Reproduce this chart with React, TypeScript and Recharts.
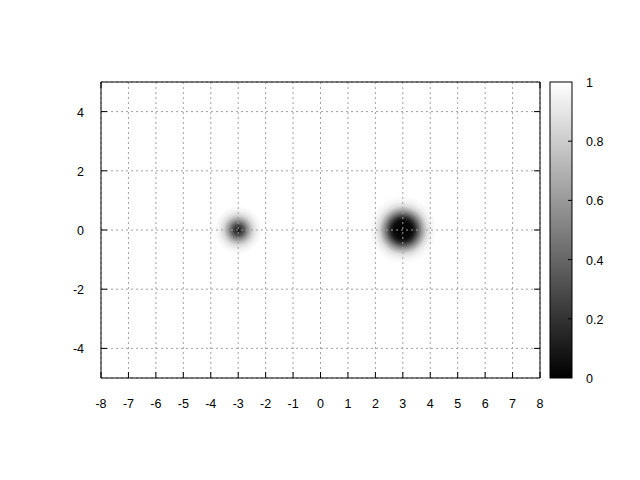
import React from "react"
import { ScatterChart, Scatter, XAxis, YAxis, CartesianGrid, ComposedChart, Bar } from "recharts"

// axis ticks
const xTicks = [-8, -7, -6, -5, -4, -3, -2, -1, 0, 1, 2, 3, 4, 5, 6, 7, 8]
const yTicks = [-4, -2, 0, 2, 4]
const cbTicks = [0, 0.2, 0.4, 0.6, 0.8, 1]

// the two dark spots of the map
const spots = [
  { x: -3, y: 0, id: "left" },
  { x: 3, y: 0, id: "right" },
]

// radial profile of each spot: distance from centre (x units) -> value
const leftDist = [0, 0.11, 0.22, 0.33, 0.44, 0.55, 0.7, 0.875]
const leftLevel = [0.05, 0.2, 0.35, 0.55, 0.72, 0.86, 0.95, 1]
const rightDist = [0, 0.33, 0.44, 0.55, 0.66, 0.77, 0.87, 1.02, 1.24]
const rightLevel = [0, 0.04, 0.15, 0.35, 0.55, 0.72, 0.86, 0.95, 1]

const profiles: Record<string, { dist: number[]; level: number[] }> = {
  left: { dist: leftDist, level: leftLevel },
  right: { dist: rightDist, level: rightLevel },
}

// colour bar: one band covering the whole 0..1 range
const cbData = [{ name: "cb", top: 1 }]

const W = 640
const H = 480
// plot area 101..540 x 82..378
const plotMargin = { top: 82, right: 100, bottom: 102, left: 101 }
const axisMargin = { top: 81, right: 99, bottom: 72, left: 71 }
const pxPerX = (540 - 101) / 16

const font = { fontFamily: "'Liberation Sans', Arial, sans-serif", fontSize: 12.5, fill: "#000" }
const TICK = 6

const gray = (v: number) => {
  const c = Math.round(v * 255)
  return `rgb(${c},${c},${c})`
}

function Spot(props: any) {
  const { cx, cy, payload } = props
  const p = profiles[payload.id]
  const maxD = p.dist[p.dist.length - 1]
  const gid = `spot-${payload.id}`
  return (
    <g>
      <defs>
        <radialGradient id={gid}>
          {p.dist.map((d, i) => (
            <stop key={i} offset={d / maxD} stopColor={gray(p.level[i])} />
          ))}
        </radialGradient>
      </defs>
      <circle cx={cx} cy={cy} r={maxD * pxPerX} fill={`url(#${gid})`} />
    </g>
  )
}

const BottomTick = ({ x, y, payload }: any) => (
  <g>
    <line x1={x} x2={x} y1={y} y2={y - TICK} stroke="#000" />
    <text x={x} y={y + 30} textAnchor="middle" {...font}>{payload.value}</text>
  </g>
)
const TopTick = ({ x, y }: any) => <line x1={x} x2={x} y1={y} y2={y + TICK} stroke="#000" />
const LeftTick = ({ x, y, payload }: any) => (
  <g>
    <line x1={x} x2={x + TICK} y1={y} y2={y} stroke="#000" />
    <text x={x - 17} y={y + 5} textAnchor="end" {...font}>{payload.value}</text>
  </g>
)
const RightTick = ({ x, y }: any) => <line x1={x} x2={x - TICK} y1={y} y2={y} stroke="#000" />

const CbTick = ({ x, y, payload }: any) => (
  <g>
    {payload.value > 0 && payload.value < 1 && (
      <line x1={x} x2={x - 4} y1={y} y2={y} stroke="#000" />
    )}
    <text x={x + 14} y={y + 5} textAnchor="start" {...font}>{payload.value}</text>
  </g>
)

const CbBar = (props: any) => {
  const { x, y, width, height } = props
  return (
    <g>
      <defs>
        <linearGradient id="cbGrad" x1="0" y1="1" x2="0" y2="0">
          {cbTicks.map((t) => (
            <stop key={t} offset={t} stopColor={gray(t)} />
          ))}
        </linearGradient>
      </defs>
      <rect x={x} y={y} width={width} height={height} fill="url(#cbGrad)" stroke="#000" />
    </g>
  )
}

const layer: React.CSSProperties = { position: "absolute", left: 0, top: 0 }

export default function App() {
  return (
    <div style={{ position: "absolute", left: 0, top: 0, width: W, height: H, background: "#fff" }}>
      {/* map surface */}
      <div style={layer}>
        <ScatterChart width={W} height={H} margin={plotMargin}>
          <XAxis type="number" dataKey="x" domain={[-8, 8]} hide allowDataOverflow />
          <YAxis type="number" dataKey="y" domain={[-5, 5]} hide allowDataOverflow />
          <Scatter data={spots} shape={<Spot />} isAnimationActive={false} />
        </ScatterChart>
      </div>
      {/* grid and border drawn in front, as gnuplot does */}
      <div style={layer}>
        <ScatterChart width={W} height={H} margin={axisMargin} data={spots}>
          <XAxis xAxisId="b" type="number" dataKey="x" domain={[-8, 8]} ticks={xTicks} interval={0}
            height={30} tickSize={0} tickMargin={0} tick={<BottomTick />} axisLine={{ stroke: "#000" }} allowDataOverflow />
          <XAxis xAxisId="t" orientation="top" type="number" domain={[-8, 8]} ticks={xTicks} interval={0}
            height={1} tickSize={0} tickMargin={0} tick={<TopTick />} axisLine={{ stroke: "#000" }} allowDataOverflow />
          <YAxis yAxisId="l" type="number" dataKey="y" domain={[-5, 5]} ticks={yTicks} interval={0}
            width={30} tickSize={0} tickMargin={0} tick={<LeftTick />} axisLine={{ stroke: "#000" }} allowDataOverflow />
          <YAxis yAxisId="r" orientation="right" type="number" domain={[-5, 5]} ticks={yTicks} interval={0}
            width={1} tickSize={0} tickMargin={0} tick={<RightTick />} axisLine={{ stroke: "#000" }} allowDataOverflow />
          <CartesianGrid xAxisId="b" yAxisId="l" stroke="#a0a0a0" strokeDasharray="2 3" />
        </ScatterChart>
      </div>
      {/* colour box */}
      <div style={layer}>
        <ComposedChart width={W} height={H} data={cbData} margin={{ top: 82, right: 28, bottom: 102, left: 550 }}
          barCategoryGap={0}>
          <XAxis dataKey="name" type="category" hide />
          <YAxis orientation="right" type="number" domain={[0, 1]} ticks={cbTicks} interval={0}
            width={40} tickSize={0} tickMargin={0} axisLine={false} tick={<CbTick />} />
          <Bar dataKey="top" shape={<CbBar />} isAnimationActive={false} />
        </ComposedChart>
      </div>
    </div>
  )
}
